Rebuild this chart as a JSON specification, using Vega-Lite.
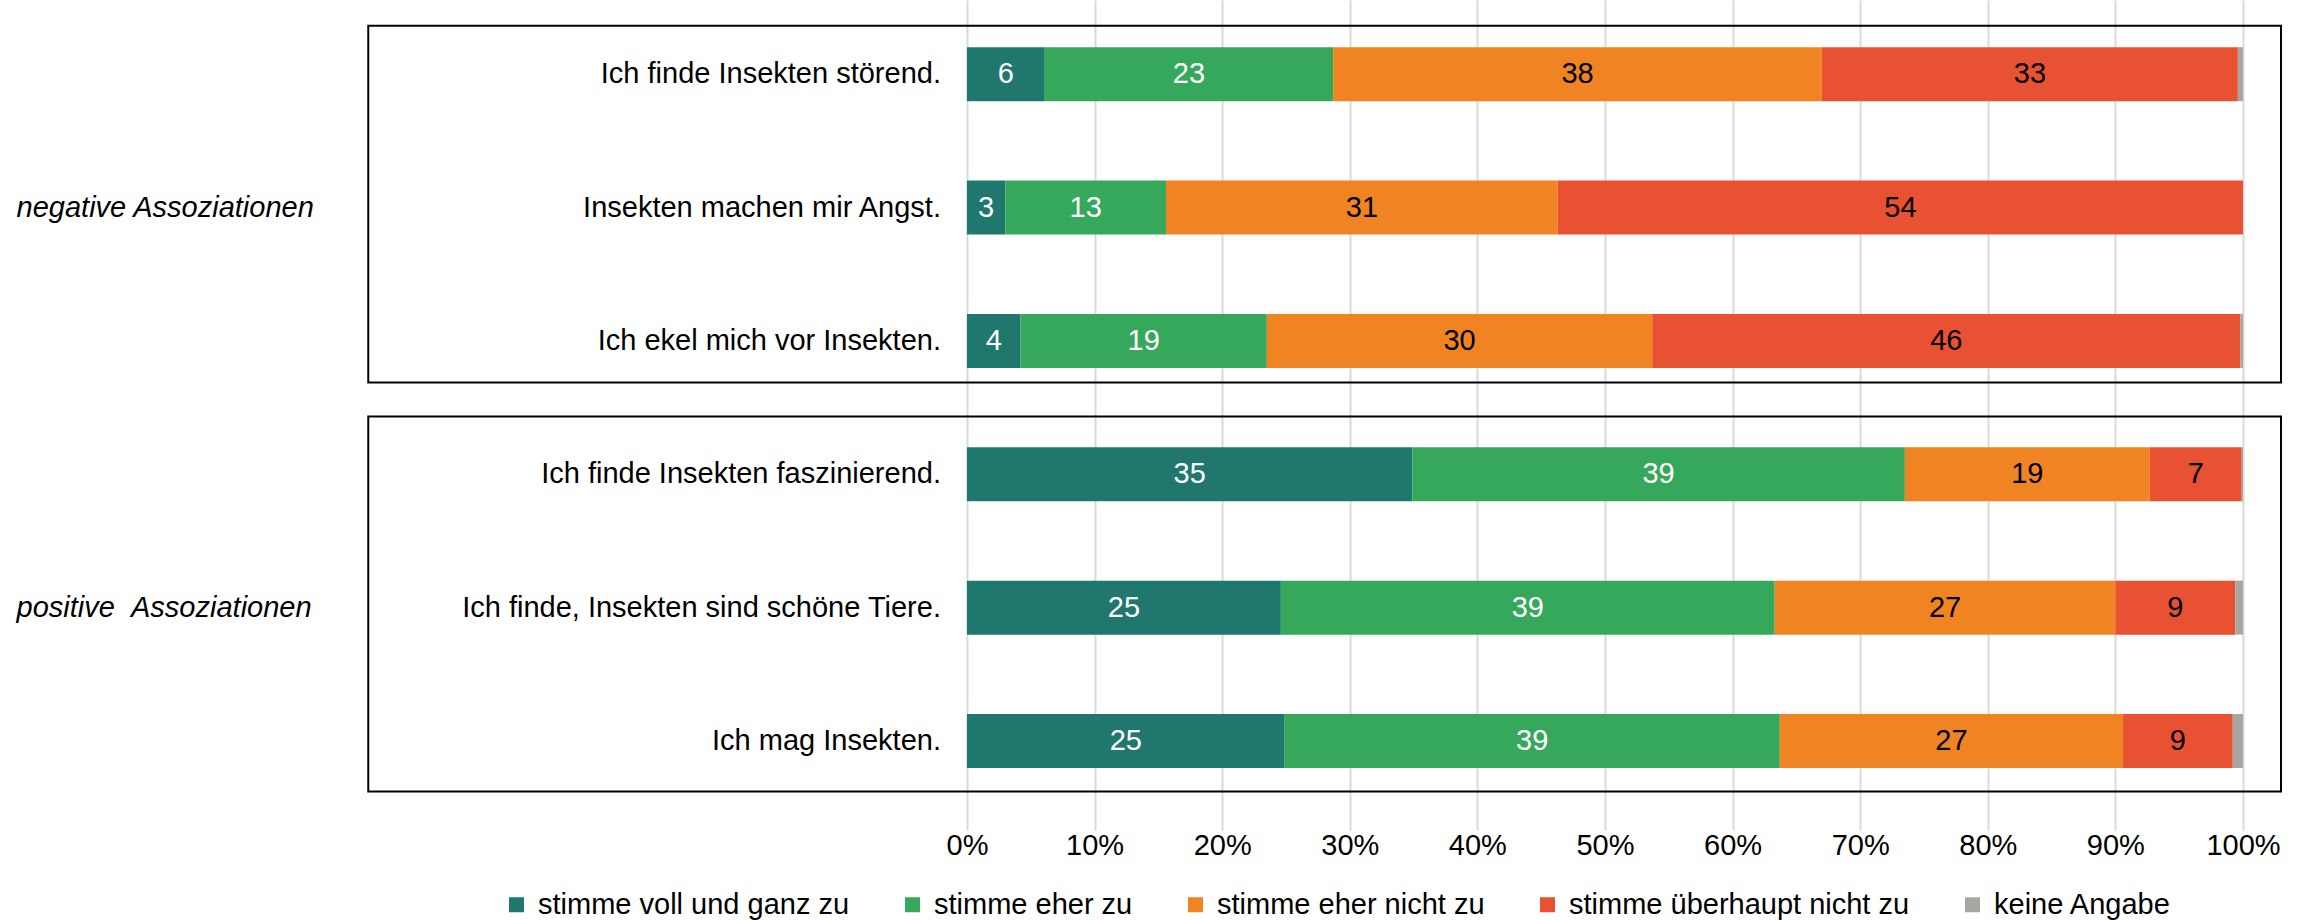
{
  "$schema": "https://vega.github.io/schema/vega-lite/v6.json",
  "width": 2305,
  "height": 830,
  "padding": 0,
  "background": "white",
  "config": {
    "view": {"stroke": null},
    "font": "Liberation Sans",
    "text": {"font": "Liberation Sans"},
    "axisX": {
      "domain": false, "ticks": false, "tickSize": 0, "labelPadding": 1, "labelFontSize": 29,
      "labelColor": "black", "labelFont": "Liberation Sans", "grid": true, "gridColor": "#d9d9d9",
      "gridWidth": 2, "labelFlush": false, "labelOverlap": false, "title": null
    }
  },
  "datasets": {
    "statements": [
      {"item": "Ich finde Insekten störend.", "group": "negative Assoziationen", "row": 1},
      {"item": "Insekten machen mir Angst.", "group": "negative Assoziationen", "row": 2},
      {"item": "Ich ekel mich vor Insekten.", "group": "negative Assoziationen", "row": 3},
      {"item": "Ich finde Insekten faszinierend.", "group": "positive \u00a0Assoziationen", "row": 4},
      {"item": "Ich finde, Insekten sind schöne Tiere.", "group": "positive \u00a0Assoziationen", "row": 5},
      {"item": "Ich mag Insekten.", "group": "positive \u00a0Assoziationen", "row": 6}
    ],
    "responses": [
      {"item": "Ich finde Insekten störend.", "cat": "stimme voll und ganz zu", "k": 1, "value": 6.1},
      {"item": "Ich finde Insekten störend.", "cat": "stimme eher zu", "k": 2, "value": 22.6},
      {"item": "Ich finde Insekten störend.", "cat": "stimme eher nicht zu", "k": 3, "value": 38.3},
      {"item": "Ich finde Insekten störend.", "cat": "stimme überhaupt nicht zu", "k": 4, "value": 32.6},
      {"item": "Ich finde Insekten störend.", "cat": "keine Angabe", "k": 5, "value": 0.4},
      {"item": "Insekten machen mir Angst.", "cat": "stimme voll und ganz zu", "k": 1, "value": 3.0},
      {"item": "Insekten machen mir Angst.", "cat": "stimme eher zu", "k": 2, "value": 12.6},
      {"item": "Insekten machen mir Angst.", "cat": "stimme eher nicht zu", "k": 3, "value": 30.7},
      {"item": "Insekten machen mir Angst.", "cat": "stimme überhaupt nicht zu", "k": 4, "value": 53.7},
      {"item": "Insekten machen mir Angst.", "cat": "keine Angabe", "k": 5, "value": 0},
      {"item": "Ich ekel mich vor Insekten.", "cat": "stimme voll und ganz zu", "k": 1, "value": 4.2},
      {"item": "Ich ekel mich vor Insekten.", "cat": "stimme eher zu", "k": 2, "value": 19.3},
      {"item": "Ich ekel mich vor Insekten.", "cat": "stimme eher nicht zu", "k": 3, "value": 30.2},
      {"item": "Ich ekel mich vor Insekten.", "cat": "stimme überhaupt nicht zu", "k": 4, "value": 46.1},
      {"item": "Ich ekel mich vor Insekten.", "cat": "keine Angabe", "k": 5, "value": 0.2},
      {"item": "Ich finde Insekten faszinierend.", "cat": "stimme voll und ganz zu", "k": 1, "value": 34.9},
      {"item": "Ich finde Insekten faszinierend.", "cat": "stimme eher zu", "k": 2, "value": 38.6},
      {"item": "Ich finde Insekten faszinierend.", "cat": "stimme eher nicht zu", "k": 3, "value": 19.2},
      {"item": "Ich finde Insekten faszinierend.", "cat": "stimme überhaupt nicht zu", "k": 4, "value": 7.2},
      {"item": "Ich finde Insekten faszinierend.", "cat": "keine Angabe", "k": 5, "value": 0.1},
      {"item": "Ich finde, Insekten sind schöne Tiere.", "cat": "stimme voll und ganz zu", "k": 1, "value": 24.6},
      {"item": "Ich finde, Insekten sind schöne Tiere.", "cat": "stimme eher zu", "k": 2, "value": 38.7},
      {"item": "Ich finde, Insekten sind schöne Tiere.", "cat": "stimme eher nicht zu", "k": 3, "value": 26.7},
      {"item": "Ich finde, Insekten sind schöne Tiere.", "cat": "stimme überhaupt nicht zu", "k": 4, "value": 9.4},
      {"item": "Ich finde, Insekten sind schöne Tiere.", "cat": "keine Angabe", "k": 5, "value": 0.6},
      {"item": "Ich mag Insekten.", "cat": "stimme voll und ganz zu", "k": 1, "value": 24.9},
      {"item": "Ich mag Insekten.", "cat": "stimme eher zu", "k": 2, "value": 38.8},
      {"item": "Ich mag Insekten.", "cat": "stimme eher nicht zu", "k": 3, "value": 26.9},
      {"item": "Ich mag Insekten.", "cat": "stimme überhaupt nicht zu", "k": 4, "value": 8.6},
      {"item": "Ich mag Insekten.", "cat": "keine Angabe", "k": 5, "value": 0.8}
    ]
  },
  "layer": [
    {
      "data": {"name": "responses"},
      "transform": [{"lookup": "item", "from": {"data": {"name": "statements"}, "key": "item", "fields": ["row"]}}],
      "mark": {"type": "bar", "orient": "horizontal", "height": 54},
      "encoding": {
        "x": {
          "field": "value", "type": "quantitative", "stack": "normalize", "title": null,
          "scale": {"domain": [-0.7578, 1.0486], "nice": false, "zero": false},
          "axis": {"values": [0, 0.1, 0.2, 0.3, 0.4, 0.5, 0.6, 0.7, 0.8, 0.9, 1], "format": ".0%"}
        },
        "y": {"field": "row", "type": "quantitative", "axis": null,
              "scale": {"domain": [0.4815, 6.6296], "nice": false, "zero": false, "reverse": true}},
        "color": {
          "field": "cat", "type": "nominal",
          "scale": {
            "domain": ["stimme voll und ganz zu", "stimme eher zu", "stimme eher nicht zu", "stimme überhaupt nicht zu", "keine Angabe"],
            "range": ["#20776d", "#36a85b", "#f08423", "#e85131", "#a6a6a3"]
          },
          "legend": {
            "orient": "none", "legendX": 502, "legendY": 890, "direction": "horizontal", "title": null,
            "labelFontSize": 29, "labelFont": "Liberation Sans", "labelColor": "black", "labelLimit": 1000,
            "symbolType": "square", "symbolSize": 225, "symbolStrokeWidth": 0, "symbolOpacity": 1,
            "columnPadding": 48, "labelOffset": 7, "padding": 0
          }
        },
        "order": {"field": "k", "type": "quantitative"}
      }
    },
    {
      "data": {"name": "statements"},
      "mark": {"type": "rect", "filled": false, "stroke": "black", "strokeWidth": 2},
      "transform": [{"filter": "datum.row === 1"}],
      "encoding": {
        "x": {"datum": -0.4692, "type": "quantitative", "title": null},
        "x2": {"datum": 1.0298},
        "y": {"datum": 0.637, "type": "quantitative", "axis": null},
        "y2": {"datum": 3.311}
      }
    },
    {
      "data": {"name": "statements"},
      "mark": {"type": "rect", "filled": false, "stroke": "black", "strokeWidth": 2},
      "transform": [{"filter": "datum.row === 1"}],
      "encoding": {
        "x": {"datum": -0.4692, "type": "quantitative", "title": null},
        "x2": {"datum": 1.0298},
        "y": {"datum": 3.567, "type": "quantitative", "axis": null},
        "y2": {"datum": 6.378}
      }
    },
    {
      "data": {"name": "responses"},
      "transform": [{"lookup": "item", "from": {"data": {"name": "statements"}, "key": "item", "fields": ["row"]}}],
      "mark": {"type": "text", "fontSize": 29, "baseline": "middle", "align": "center"},
      "encoding": {
        "x": {"field": "value", "type": "quantitative", "stack": "normalize", "bandPosition": 0.5, "title": null},
        "y": {"field": "row", "type": "quantitative", "axis": null},
        "detail": {"field": "cat", "type": "nominal"},
        "order": {"field": "k", "type": "quantitative"},
        "text": {"field": "value", "type": "quantitative", "format": ".0f"},
        "color": {"condition": {"test": "datum.k <= 2", "value": "white"}, "value": "black"},
        "opacity": {"condition": {"test": "datum.k === 5", "value": 0}, "value": 1}
      }
    },
    {
      "data": {"name": "statements"},
      "mark": {"type": "text", "fontSize": 29, "baseline": "middle", "align": "right", "dx": -26, "color": "black"},
      "encoding": {
        "x": {"datum": 0, "type": "quantitative", "title": null},
        "y": {"field": "row", "type": "quantitative", "axis": null},
        "text": {"field": "item"}
      }
    },
    {
      "data": {"name": "statements"},
      "mark": {"type": "text", "fontSize": 29, "fontStyle": "italic", "baseline": "middle", "align": "left", "color": "black"},
      "encoding": {
        "x": {"datum": -0.7448, "type": "quantitative", "title": null},
        "y": {"aggregate": "mean", "field": "row", "type": "quantitative", "axis": null},
        "detail": {"field": "group"},
        "text": {"field": "group"}
      }
    }
  ]
}
